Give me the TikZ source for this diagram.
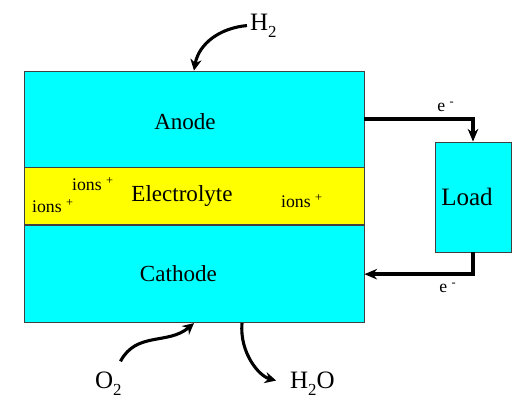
\documentclass[tikz,border=0pt]{standalone}
\usepackage{fontspec}
\setmainfont{Liberation Serif}
\usetikzlibrary{arrows.meta, positioning}
\definecolor{cellcyan}{RGB}{0,255,255}
\definecolor{cellyellow}{RGB}{255,255,0}

\begin{document}
\begin{tikzpicture}[
  cell/.style={
    draw=black!75,
    line width=0.6pt,
    minimum width=8.5cm,
    inner sep=0pt
  },
  celltext/.style={
    font=\fontsize{16.4}{19}\selectfont
  },
  ionlabel/.style={
    font=\fontsize{12.6}{14}\selectfont,
    inner sep=1pt
  },
  elabel/.style={
    font=\fontsize{12.6}{14}\selectfont,
    inner sep=1pt
  },
  gas/.style={
    font=\fontsize{17.8}{20}\selectfont,
    inner sep=2pt
  },
  flow/.style={
    -{Stealth[length=8pt, width=8pt]},
    line width=2.2pt
  },
  wire/.style={
    -{Stealth[length=9pt, width=7.5pt]},
    line width=2.5pt
  }
]
\useasboundingbox (0,0) rectangle (12.975,-10.5);

% Cell layers
\node[cell, fill=cellcyan, minimum height=2.4cm] (anode) at (4.85,-2.975) {};
\node[cell, fill=cellyellow, minimum height=1.425cm, anchor=north] (electrolyte) at (anode.south) {};
\node[cell, fill=cellcyan, minimum height=2.425cm, anchor=north] (cathode) at (electrolyte.south) {};

% Layer texts
\node[celltext] (anodetxt) at (4.625,-3.05) {Anode};
\node[celltext] (electrotxt) at (4.55,-4.9) {Electrolyte};
\node[celltext] (cathodetxt) at (4.46,-6.85) {Cathode};

% Ions
\node[ionlabel] (ionsa) at (2.325,-4.6) {ions \textsuperscript{+}};
\node[ionlabel] (ionsb) at (1.325,-5.15) {ions \textsuperscript{+}};
\node[ionlabel] (ionsc) at (7.55,-5.03) {ions \textsuperscript{+}};

% Load
\node[cell, fill=cellcyan, minimum width=1.9cm, minimum height=2.75cm,
  font=\fontsize{17.8}{20}\selectfont] (load) at (11.825,-4.925)
  {\hspace*{-0.3cm}Load};

% External circuit
\draw[wire] (anode.east) -| (load.north);
\draw[wire] (load.south) |- (cathode.east);
\node[elabel] (etop) at (11.15,-2.68) {e \textsuperscript{-}};
\node[elabel] (ebot) at (11.2,-7.2) {e \textsuperscript{-}};

% Gases
\node[gas, anchor=base west] (h2) at (6.175,-0.75)
  {H\raisebox{-0.3em}{\fontsize{12}{12}\selectfont 2}};
\node[gas, anchor=base west] (o2) at (2.3,-9.7)
  {O\raisebox{-0.3em}{\fontsize{12}{12}\selectfont 2}};
\node[gas, anchor=base west] (h2o) at (7.175,-9.7)
  {H\raisebox{-0.3em}{\fontsize{12}{12}\selectfont 2}O};

\draw[flow] (h2.west) to[out=185, in=80] (anode.north);
\draw[flow] ([xshift=-3pt, yshift=5pt]o2.north east) .. controls +(0.4,0.75) and +(-0.65,-0.55) .. (cathode.south);
\draw[flow, shorten >=8pt] ([xshift=1.2cm]cathode.south) to[out=-95, in=165] (h2o.west);

\end{tikzpicture}
\end{document}
